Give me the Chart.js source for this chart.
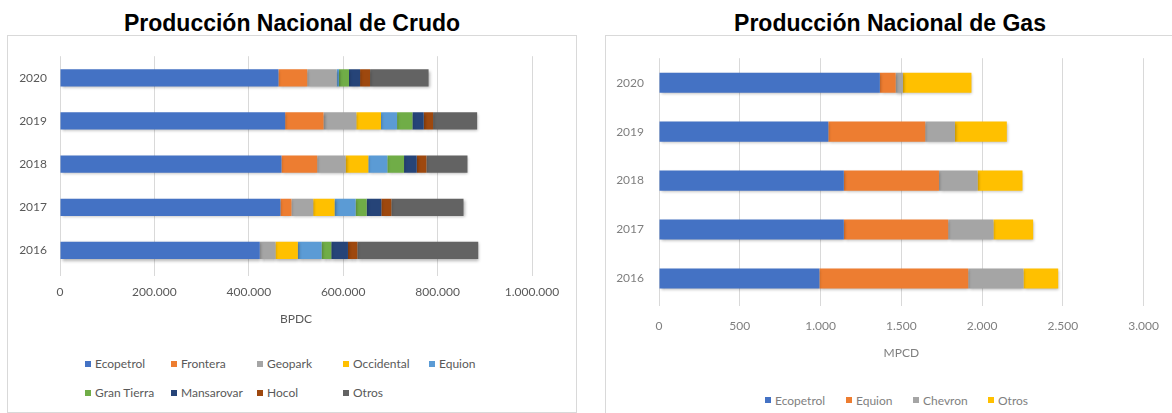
<!DOCTYPE html>
<html lang="es">
<head>
<meta charset="utf-8">
<title>Producción Nacional de Crudo y Gas</title>
<script src="https://cdn.jsdelivr.net/npm/chart.js@4.4.1/dist/chart.umd.min.js"></script>
<style>
  body { margin: 0; background: #fff; width: 1172px; height: 413px; overflow: hidden; position: relative; font-family: Lato, sans-serif; }
  .title { position: absolute; top: 10px; font: bold 23px "Liberation Sans", Arial, sans-serif; line-height: 27px; text-align: center; color: #000; white-space: nowrap; }
  .box { position: absolute; border: 1px solid #d9d9d9; }
  .box canvas { position: absolute; left: 0; top: 0; }
  .legend { position: absolute; font-size: 12px; }
  .legend .item { display: flex; align-items: center; white-space: nowrap; }
  .legend .swatch { width: 6px; height: 6px; margin-right: 4px; flex: none; }
  #legend-crudo { left: 85px; top: 349px; display: grid; grid-template-columns: repeat(5, 86px); grid-auto-rows: 29.3px; color: #595959; }
  #legend-gas { left: 765px; top: 390px; height: 20px; display: flex; color: #7f7f7f; }
</style>
</head>
<body>
<div class="title" style="left:7px; width:570px;">Producción Nacional de Crudo</div>
<div class="title" style="left:606px; width:568px;">Producción Nacional de Gas</div>

<div class="box" style="left:7px; top:35px; width:568px; height:376px;">
  <canvas id="chart-crudo" width="568" height="300"></canvas>
</div>
<div class="box" style="left:605px; top:35px; width:600px; height:400px;">
  <canvas id="chart-gas" width="566" height="340"></canvas>
</div>

<div class="legend" id="legend-crudo"></div>
<div class="legend" id="legend-gas"></div>

<script>
// Categories
const years = ['2016', '2017', '2018', '2019', '2020'];

// Crudo (BPDC), 2016..2020
const ecopetrolCrudo = [423200, 467000, 469200, 477000, 462800];
const fronteraCrudo = [0, 23400, 75700, 81300, 61000];
const geoparkCrudo = [33300, 46000, 60200, 69400, 62300];
const occidentalCrudo = [47400, 45300, 48100, 52400, 0];
const equionCrudo = [50300, 44600, 40300, 34000, 5000];
const granTierraCrudo = [20500, 23400, 35400, 32500, 21200];
const mansarovarCrudo = [35400, 31100, 26900, 24000, 23400];
const hocolCrudo = [19800, 21200, 20500, 19800, 21200];
const otrosCrudo = [256200, 152900, 87000, 93400, 124000];

// Gas (MPCD), 2016..2020
const ecopetrolGas = [993, 1144, 1144, 1048, 1367];
const equionGas = [921, 646, 589, 600, 98];
const chevronGas = [342, 280, 239, 184, 45];
const otrosGas = [215, 246, 278, 321, 424];

// Series labels
const crudoLabels = ['Ecopetrol', 'Frontera', 'Geopark', 'Occidental', 'Equion', 'Gran Tierra', 'Mansarovar', 'Hocol', 'Otros'];
const gasLabels = ['Ecopetrol', 'Equion', 'Chevron', 'Otros'];

// Office palette
const crudoColors = ['#4472C4', '#ED7D31', '#A5A5A5', '#FFC000', '#5B9BD5', '#70AD47', '#264478', '#9E480E', '#636363'];
const gasColors = ['#4472C4', '#ED7D31', '#A5A5A5', '#FFC000'];

// Soft shadow under the bars, like the Excel original
const barShadow = {
    id: 'barShadow',
    beforeDatasetsDraw(chart) {
        const c = chart.ctx;
        c.save();
        c.shadowColor = 'rgba(0, 0, 0, 0.3)';
        c.shadowBlur = 3;
        c.shadowOffsetX = 1;
        c.shadowOffsetY = 1.5;
    },
    afterDatasetsDraw(chart) {
        chart.ctx.restore();
    }
};

function formatThousands(v) {
    return String(v).replace(/\B(?=(\d{3})+(?!\d))/g, '.');
}

function makeDatasets(labels, series, colors, barPct) {
    return labels.map((label, i) => ({
        label: label,
        data: series[i],
        backgroundColor: colors[i],
        borderWidth: 0,
        barPercentage: barPct,
        categoryPercentage: 1
    }));
}

function buildChart(canvas, datasets, o) {
    const font = { family: 'Lato', size: 12 };
    return new Chart(canvas.getContext('2d'), {
        type: 'bar',
        data: { labels: years, datasets: datasets },
        options: {
            indexAxis: 'y',
            responsive: false,
            animation: false,
            layout: { padding: { top: o.padTop, right: o.padRight, bottom: o.padBottom, left: 0 } },
            plugins: { legend: { display: false }, tooltip: { enabled: false } },
            scales: {
                x: {
                    stacked: true,
                    min: 0,
                    max: o.max,
                    grid: { color: '#d9d9d9', lineWidth: 1, tickLength: o.tickLength },
                    border: { display: false },
                    ticks: { stepSize: o.step, padding: o.tickPadding, color: o.textColor, font: font, callback: v => formatThousands(v) },
                    title: { display: true, text: o.axisTitle, color: o.textColor, font: font, padding: { top: 4, bottom: 4 } },
                    afterFit: s => { s.height = o.xHeight; }
                },
                y: {
                    stacked: true,
                    reverse: true,
                    grid: { display: false, drawTicks: false },
                    border: { display: false },
                    ticks: { padding: o.yPadding, color: o.textColor, font: font },
                    afterFit: s => { s.width = o.yWidth; }
                }
            }
        },
        plugins: [barShadow]
    });
}

function buildLegend(el, labels, colors, widths) {
    labels.forEach((label, i) => {
        const item = document.createElement('div');
        item.className = 'item';
        if (widths && widths[i]) item.style.width = widths[i] + 'px';
        const sw = document.createElement('span');
        sw.className = 'swatch';
        sw.style.background = colors[i];
        item.appendChild(sw);
        item.appendChild(document.createTextNode(label));
        el.appendChild(item);
    });
}

// Crudo chart
buildChart(document.getElementById('chart-crudo'),
    makeDatasets(crudoLabels,
        [ecopetrolCrudo, fronteraCrudo, geoparkCrudo, occidentalCrudo, equionCrudo, granTierraCrudo, mansarovarCrudo, hocolCrudo, otrosCrudo],
        crudoColors, 0.40),
    {
        padTop: 19, padRight: 44, padBottom: 6,
        max: 1000000, step: 200000,
        tickLength: 4, tickPadding: 9,
        xHeight: 58, yWidth: 52, yPadding: 13,
        axisTitle: 'BPDC', textColor: '#595959'
    });

// Gas chart
buildChart(document.getElementById('chart-gas'),
    makeDatasets(gasLabels, [ecopetrolGas, equionGas, chevronGas, otrosGas], gasColors, 0.41),
    {
        padTop: 20, padRight: 24, padBottom: 12,
        max: 3000, step: 500,
        tickLength: 3, tickPadding: 13,
        xHeight: 61, yWidth: 53, yPadding: 15,
        axisTitle: 'MPCD', textColor: '#7f7f7f'
    });

buildLegend(document.getElementById('legend-crudo'), crudoLabels, crudoColors);
buildLegend(document.getElementById('legend-gas'), gasLabels, gasColors, [81, 67, 75]);
</script>
</body>
</html>
